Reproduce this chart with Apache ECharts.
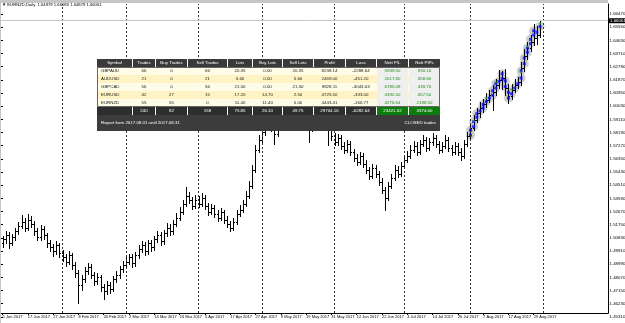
<!DOCTYPE html>
<html><head><meta charset="utf-8">
<script src="https://cdn.jsdelivr.net/npm/echarts@6/dist/echarts.min.js"></script>
<style>html,body{margin:0;padding:0;background:#fff}#c{width:625px;height:323px}</style>
</head><body><div id="c"></div>
<script>
// ---------- data ----------
const titleText = '\u25BC EURNZD,Daily  1.64979 1.66085 1.64879 1.66061';
const bidPrice = 1.66061;
const yTickLabels = ['1.66470','1.65550','1.64630','1.63710','1.62790','1.61870','1.60950','1.60030','1.59110','1.58190','1.57270','1.56350','1.55430','1.54510','1.53590','1.52670','1.51750','1.50830','1.49910','1.48990','1.48070','1.47150','1.46230','1.45310'];
const xTickLabels = ['5 Jan 2017','17 Jan 2017','27 Jan 2017','8 Feb 2017','20 Feb 2017','2 Mar 2017','14 Mar 2017','24 Mar 2017','5 Apr 2017','17 Apr 2017','27 Apr 2017','9 May 2017','19 May 2017','31 May 2017','12 Jun 2017','22 Jun 2017','4 Jul 2017','14 Jul 2017','26 Jul 2017','7 Aug 2017','17 Aug 2017','29 Aug 2017'];

const openP = [
1.5050,1.5072,1.5100,1.5044,1.5086,1.5128,1.5169,1.5197,1.5155,1.5211,
1.5183,1.5128,1.5086,1.5142,1.5100,1.5044,1.5016,1.4988,1.5030,1.4974,
1.4946,1.4918,1.4960,1.4891,1.4835,1.4751,1.4793,1.4849,1.4877,1.4821,
1.4779,1.4807,1.4737,1.4709,1.4751,1.4723,1.4793,1.4821,1.4863,1.4891,
1.4918,1.4946,1.4905,1.4960,1.5002,1.5030,1.4988,1.5044,1.5016,1.5072,
1.5100,1.5058,1.5114,1.5155,1.5128,1.5183,1.5225,1.5267,1.5323,1.5379,
1.5351,1.5309,1.5351,1.5323,1.5365,1.5309,1.5267,1.5295,1.5253,1.5225,
1.5267,1.5211,1.5183,1.5155,1.5197,1.5253,1.5281,1.5323,1.5379,1.5448,
1.5560,1.5699,1.5769,1.5825,1.5866,1.5908,1.5852,1.5811,1.5880,1.5922,
1.5964,1.5908,1.5866,1.5922,1.5978,1.6020,1.5964,1.5908,1.5852,1.5894,
1.5950,1.5992,1.5936,1.5880,1.5839,1.5797,1.5755,1.5783,1.5727,1.5699,
1.5741,1.5685,1.5643,1.5616,1.5657,1.5602,1.5560,1.5518,1.5574,1.5532,
1.5476,1.5420,1.5365,1.5448,1.5504,1.5560,1.5532,1.5588,1.5629,1.5657,
1.5699,1.5727,1.5685,1.5741,1.5769,1.5713,1.5755,1.5783,1.5741,1.5699,
1.5727,1.5769,1.5713,1.5685,1.5727,1.5685,1.5657,1.5741,1.5797,1.5852,
1.5908,1.5957,1.5992,1.6020,1.6048,1.6082,1.6103,1.6152,1.6187,1.6201,
1.6131,1.6075,1.6117,1.6152,1.6173,1.6271,1.6354,1.6410,1.6452,1.6480,
1.64979];
const highP = [
1.5098,1.5131,1.5122,1.5109,1.5155,1.5192,1.5240,1.5221,1.5248,1.5235,
1.5201,1.5150,1.5170,1.5165,1.5118,1.5070,1.5041,1.5062,1.5048,1.4999,
1.4970,1.4988,1.4975,1.4912,1.4860,1.4821,1.4878,1.4905,1.4899,1.4844,
1.4836,1.4825,1.4762,1.4780,1.4772,1.4815,1.4850,1.4890,1.4920,1.4950,
1.4972,1.4968,1.4985,1.5035,1.5060,1.5052,1.5070,1.5066,1.5098,1.5130,
1.5121,1.5140,1.5185,1.5178,1.5210,1.5255,1.5296,1.5350,1.5440,1.5402,
1.5372,1.5380,1.5375,1.5395,1.5381,1.5330,1.5322,1.5316,1.5275,1.5292,
1.5281,1.5235,1.5202,1.5225,1.5280,1.5310,1.5351,1.5408,1.5480,1.5590,
1.5735,1.5805,1.5860,1.5898,1.5940,1.5925,1.5870,1.5905,1.5955,1.5995,
1.5982,1.5930,1.5950,1.6005,1.6050,1.6035,1.5985,1.5930,1.5920,1.5975,
1.6025,1.6010,1.5955,1.5900,1.5860,1.5818,1.5810,1.5802,1.5750,1.5770,
1.5760,1.5705,1.5668,1.5685,1.5675,1.5625,1.5580,1.5600,1.5595,1.5550,
1.5498,1.5440,1.5475,1.5530,1.5590,1.5582,1.5615,1.5660,1.5690,1.5730,
1.5760,1.5750,1.5770,1.5805,1.5790,1.5782,1.5815,1.5805,1.5760,1.5755,
1.5800,1.5790,1.5735,1.5755,1.5748,1.5710,1.5768,1.5825,1.5880,1.5940,
1.5990,1.6030,1.6055,1.6095,1.6115,1.6150,1.6190,1.6255,1.6250,1.6260,
1.6155,1.6160,1.6190,1.6210,1.6310,1.6405,1.6450,1.6500,1.6580,1.6565,
1.66085];
const lowP = [
1.5021,1.5048,1.5012,1.5030,1.5068,1.5110,1.5150,1.5130,1.5141,1.5160,
1.5102,1.5065,1.5071,1.5078,1.5022,1.4990,1.4958,1.4970,1.4950,1.4921,
1.4890,1.4902,1.4868,1.4810,1.4625,1.4722,1.4775,1.4830,1.4800,1.4752,
1.4760,1.4712,1.4655,1.4690,1.4698,1.4710,1.4775,1.4805,1.4846,1.4870,
1.4900,1.4880,1.4890,1.4941,1.4985,1.4965,1.4970,1.4992,1.5001,1.5055,
1.5035,1.5040,1.5096,1.5105,1.5112,1.5165,1.5208,1.5250,1.5305,1.5325,
1.5285,1.5290,1.5300,1.5305,1.5288,1.5245,1.5250,1.5230,1.5200,1.5210,
1.5190,1.5160,1.5128,1.5140,1.5180,1.5236,1.5265,1.5305,1.5360,1.5430,
1.5545,1.5680,1.5750,1.5800,1.5848,1.5830,1.5740,1.5795,1.5862,1.5905,
1.5885,1.5840,1.5850,1.5905,1.5960,1.5940,1.5885,1.5755,1.5830,1.5878,
1.5935,1.5915,1.5860,1.5730,1.5770,1.5730,1.5735,1.5705,1.5675,1.5680,
1.5662,1.5620,1.5590,1.5598,1.5580,1.5535,1.5495,1.5500,1.5510,1.5452,
1.5395,1.5281,1.5350,1.5430,1.5485,1.5510,1.5515,1.5570,1.5610,1.5640,
1.5680,1.5662,1.5668,1.5722,1.5690,1.5698,1.5735,1.5720,1.5675,1.5680,
1.5710,1.5690,1.5660,1.5668,1.5662,1.5630,1.5640,1.5725,1.5780,1.5835,
1.5890,1.5930,1.5965,1.6000,1.6030,1.5975,1.6080,1.6130,1.6120,1.6080,
1.6025,1.6055,1.6100,1.6130,1.6150,1.6250,1.6335,1.6390,1.6430,1.6440,
1.64879];
const closeP = [
1.5072,1.5100,1.5044,1.5086,1.5128,1.5169,1.5197,1.5155,1.5211,1.5183,
1.5128,1.5086,1.5142,1.5100,1.5044,1.5016,1.4988,1.5030,1.4974,1.4946,
1.4918,1.4960,1.4891,1.4835,1.4751,1.4793,1.4849,1.4877,1.4821,1.4779,
1.4807,1.4737,1.4709,1.4751,1.4723,1.4793,1.4821,1.4863,1.4891,1.4918,
1.4946,1.4905,1.4960,1.5002,1.5030,1.4988,1.5044,1.5016,1.5072,1.5100,
1.5058,1.5114,1.5155,1.5128,1.5183,1.5225,1.5267,1.5323,1.5379,1.5351,
1.5309,1.5351,1.5323,1.5365,1.5309,1.5267,1.5295,1.5253,1.5225,1.5267,
1.5211,1.5183,1.5155,1.5197,1.5253,1.5281,1.5323,1.5379,1.5448,1.5560,
1.5699,1.5769,1.5825,1.5866,1.5908,1.5852,1.5811,1.5880,1.5922,1.5964,
1.5908,1.5866,1.5922,1.5978,1.6020,1.5964,1.5908,1.5852,1.5894,1.5950,
1.5992,1.5936,1.5880,1.5839,1.5797,1.5755,1.5783,1.5727,1.5699,1.5741,
1.5685,1.5643,1.5616,1.5657,1.5602,1.5560,1.5518,1.5574,1.5532,1.5476,
1.5420,1.5365,1.5448,1.5504,1.5560,1.5532,1.5588,1.5629,1.5657,1.5699,
1.5727,1.5685,1.5741,1.5769,1.5713,1.5755,1.5783,1.5741,1.5699,1.5727,
1.5769,1.5713,1.5685,1.5727,1.5685,1.5657,1.5741,1.5797,1.5852,1.5908,
1.5957,1.5992,1.6020,1.6048,1.6082,1.6103,1.6152,1.6187,1.6201,1.6131,
1.6075,1.6117,1.6152,1.6173,1.6271,1.6354,1.6410,1.6452,1.6480,1.6498,
1.66061];

// trade arrows (bar index, price)
const buyMarks = [[148,1.5800],[148,1.5835],[149,1.5860],[149,1.5895],[150,1.5925],[150,1.5950],[151,1.5970],[152,1.5990],[152,1.6015],[153,1.6035],[154,1.6060],[155,1.6080],[155,1.6110],[156,1.6130],[156,1.6160],[157,1.6175],[158,1.6195],[158,1.6230],[159,1.6180],[159,1.6140],[160,1.6100],[160,1.6060],[161,1.6090],[162,1.6130],[163,1.6160],[164,1.6200],[164,1.6250],[165,1.6300],[165,1.6340],[166,1.6380],[166,1.6410],[167,1.6440],[167,1.6470],[168,1.6500],[168,1.6530],[169,1.6520],[170,1.6560]];
const closeMarks = [[149,1.5900],[153,1.6060],[156,1.6170],[161,1.6120],[164,1.6240],[166,1.6420],[170,1.6580]];

// report table
const tableCols = ['Symbol','Trades','Buy Trades','Sell Trades','Lots','Buy Lots','Sell Lots','Profit','Loss','Nett P/L','Nett PIPs'];
const tableRows = [
 ['GBPAUD','66','0','66','20.35','0.00','20.35','8238.14','-2288.64','5949.50','930.10'],
 ['AUDUSD','21','0','21','5.60','0.00','5.60','2469.00','-451.20','2017.80','358.80'],
 ['GBPCAD','56','0','56','21.30','0.00','21.30','9828.11','-3043.03','6785.08','439.70'],
 ['EURUSD','42','27','15','17.20','14.70','2.50','4725.50','-333.00','4392.50','457.50'],
 ['EURNZD','55','55','0','11.40','11.40','0.00','4443.41','-166.77','4276.64','2188.50']];
const tableTotals = ['','240','82','158','75.85','26.10','49.75','29704.16','-6282.64','23421.52','4374.60'];
const reportLeft = 'Report from 2017.08.01 until 2017.08.31';
const reportRight = 'CLOSED trades';

// ---------- categories (weekday calendar) ----------
const dates = [];
(function(){ let t = Date.UTC(2017,0,5);
  while (dates.length < 192) { const d = new Date(t); const w = d.getUTCDay();
    if (w !== 0 && w !== 6) dates.push(d.toISOString().slice(0,10)); t += 86400000; } })();
const separators = [];
for (let i = 1; i < dates.length; i++) if (dates[i].slice(5,7) !== dates[i-1].slice(5,7)) separators.push(dates[i]);

// ---------- layout ----------
const FONT = 'Liberation Sans';
const PX = 1431.5, ANCHOR = 1.66470, ANCHOR_Y = 14;
const GTOP = 4, GBOT = 313, H = 323;
const YMAX = ANCHOR + (ANCHOR_Y - GTOP) / PX;
const Y0MIN = ANCHOR - (GBOT - ANCHOR_Y) / PX;
const Y1MIN = ANCHOR - (H - ANCHOR_Y) / PX;
const yTickValues = yTickLabels.map(Number);
const labelInt = (idx) => idx % 8 === 0 && idx <= 168;

// table graphics
const colX = [97,133,156,188,228,253,283,314,346,377,409];
const colW = [35,22,31,39,24,29,30,31,30,31,31];
const TX = 97, TW = 343, HY = 59, RH = 8, BY = 67, TOTY = 107, RY = 115, RPH = 16;
const g = [];
const rect = (x,y,w,h,fill,z) => ({type:'rect', silent:true, z: z||100, shape:{x,y,width:w,height:h}, style:{fill}});
const txt = (x,y,s,fill,align) => ({type:'text', silent:true, z:110, x, y, style:{text:s, fill, fontSize:4.4, fontFamily:FONT, align:align||'center', verticalAlign:'middle'}});
g.push(rect(0,0,608,3,'#c6c6c6',90));
g.push(rect(0,0,1,323,'#c6c6c6',90));
g.push(rect(TX,HY,TW,RY+RPH-HY,'#ffffff',100));
tableCols.forEach((c,j) => { g.push(rect(colX[j],HY,colW[j],RH,'#3a3a3a',101)); g.push(txt(colX[j]+colW[j]/2,HY+RH/2,c,'#ffffff')); });
tableRows.forEach((row,r) => {
  const y = BY + r*RH;
  g.push(rect(TX,y,TW,RH, r%2===0 ? '#fffde8' : '#fff3c4',101));
  row.forEach((v,j) => {
    const nett = j >= 9;
    if (nett) g.push(rect(colX[j],y,colW[j],RH,'#efefef',102));
    if (j === 0) g.push(txt(colX[j]+4,y+RH/2,v,'#1a1a1a','left'));
    else g.push(txt(colX[j]+colW[j]/2,y+RH/2,v, nett ? '#1d8c1d' : '#1a1a1a'));
  });
});
g.push({type:'rect', silent:true, z:105, shape:{x:TX+0.5,y:BY+0.5,width:TW-1,height:5*RH-1}, style:{fill:null, stroke:'#666', lineWidth:1}});
tableTotals.forEach((v,j) => {
  g.push(rect(colX[j],TOTY,colW[j],RH, j>=9 ? '#0b7d0b' : '#2e2e2e',101));
  if (v) g.push(txt(colX[j]+colW[j]/2,TOTY+RH/2,v,'#ffffff'));
});
g.push(rect(TX,RY,TW,RPH,'#3c3c3c',101));
g.push(txt(TX+4,RY+RPH/2,reportLeft,'#ffffff','left'));
g.push(txt(TX+TW-4,RY+RPH/2,reportRight,'#ffffff','right'));

// ---------- chart ----------
const barData = openP.map((o,i) => [i, o, highP[i], lowP[i], closeP[i]]);
function renderBar(params, api) {
  const i = api.value(0);
  const pH = api.coord([i, api.value(2)]), pL = api.coord([i, api.value(3)]);
  const pO = api.coord([i, api.value(1)]), pC = api.coord([i, api.value(4)]);
  const x = Math.round(pH[0]) + 0.5;
  const yo = Math.round(pO[1]) + 0.5, yc = Math.round(pC[1]) + 0.5;
  const st = {stroke:'#000', lineWidth:1};
  return {type:'group', children:[
    {type:'line', shape:{x1:x, y1:Math.round(pH[1]), x2:x, y2:Math.round(pL[1])+1}, style:st},
    {type:'line', shape:{x1:x-1.5, y1:yo, x2:x, y2:yo}, style:st},
    {type:'line', shape:{x1:x, y1:yc, x2:x+1.5, y2:yc}, style:st}
  ]};
}

const chart = echarts.init(document.getElementById('c'), null, {renderer:'canvas'});
chart.setOption({
  animation:false,
  backgroundColor:'#ffffff',
  title:{text:titleText, left:2, top:3, padding:0, textStyle:{fontSize:4.2, fontWeight:'normal', color:'#000', fontFamily:FONT}},
  grid:[
    {left:1, right:17, top:GTOP, bottom:H-GBOT, containLabel:false, outerBoundsMode:'none'},
    {left:1, right:17, top:GTOP, bottom:0, containLabel:false, outerBoundsMode:'none'}
  ],
  xAxis:[
    {type:'category', gridIndex:0, data:dates, boundaryGap:true,
     axisLine:{show:true, onZero:false, lineStyle:{color:'#000', width:1}},
     axisTick:{show:true, alignWithLabel:true, interval:labelInt, length:2, lineStyle:{color:'#000'}},
     axisLabel:{show:true, interval:labelInt, formatter:(v,idx) => xTickLabels[idx/8] || '', align:'left', fontSize:4, color:'#000', margin:2, fontFamily:FONT},
     splitLine:{show:false}},
    {type:'value', gridIndex:1, show:false, min:0, max:1}
  ],
  yAxis:[
    {type:'value', gridIndex:0, position:'right', min:Y0MIN, max:YMAX, scale:true,
     axisLine:{show:true, onZero:false, lineStyle:{color:'#000', width:1}},
     axisTick:{show:false}, axisLabel:{show:false}, splitLine:{show:false}},
    {type:'value', gridIndex:1, position:'right', min:Y1MIN, max:YMAX, scale:true,
     axisLine:{show:false},
     axisTick:{show:true, customValues:yTickValues, length:2, lineStyle:{color:'#000'}},
     axisLabel:{show:true, customValues:yTickValues, formatter:(v) => Number(v).toFixed(5), fontSize:4.4, color:'#000', margin:1.5, fontFamily:FONT},
     splitLine:{show:false}}
  ],
  series:[
    {type:'scatter', name:'halo', xAxisIndex:0, yAxisIndex:0, data:buyMarks, symbol:'circle', symbolSize:9,
     itemStyle:{color:'#c2c2c2'}, z:1, silent:true},
    {type:'custom', name:'EURNZD', xAxisIndex:0, yAxisIndex:0, data:barData, renderItem:renderBar,
     encode:{x:0, y:[1,2,3,4]}, z:2, silent:true,
     markLine:{silent:true, symbol:['none','none'], animation:false, label:{show:false},
       data:[
         ...separators.map(s => ({xAxis:s, lineStyle:{color:'#333', type:[2,2], width:1}})),
         {yAxis:bidPrice, lineStyle:{color:'#c8c8c8', type:'solid', width:1},
          label:{show:true, position:'end', distance:1, formatter:bidPrice.toFixed(5), color:'#fff', backgroundColor:'#000', fontSize:4.4, padding:[1,1,0,1], fontFamily:FONT}}
       ]}},
    {type:'scatter', name:'buy', xAxisIndex:0, yAxisIndex:0, data:buyMarks, symbol:'rect', symbolSize:[3,3],
     itemStyle:{color:'#0a0aff'}, z:3, silent:true},
    {type:'scatter', name:'close', xAxisIndex:0, yAxisIndex:0, data:closeMarks, symbol:'rect', symbolSize:[2,2],
     itemStyle:{color:'#1fae1f'}, z:4, silent:true}
  ],
  graphic:g
});
</script></body></html>
